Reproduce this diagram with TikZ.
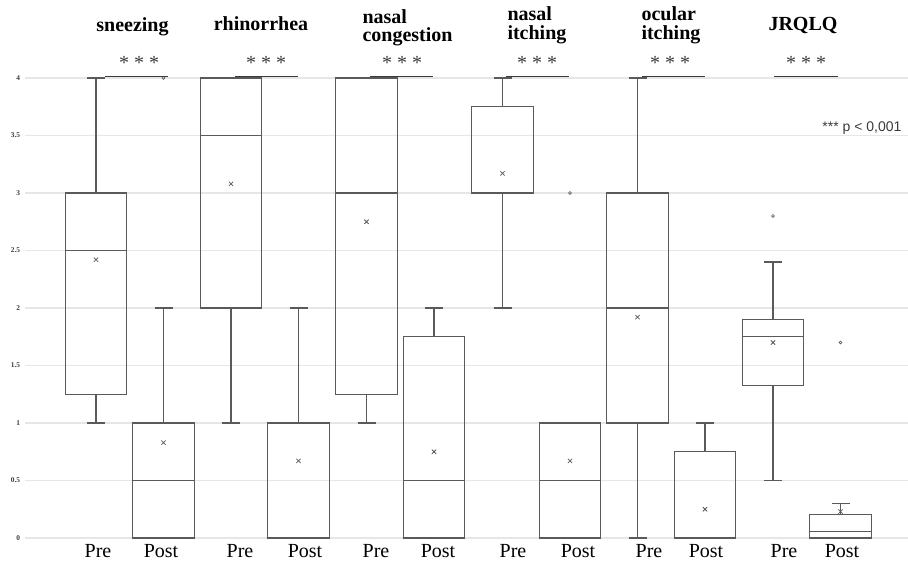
\documentclass[tikz,border=0pt]{standalone}
\usepackage{fontspec}
\setmainfont{Liberation Serif}
\newfontfamily\arialf{Liberation Sans}
\definecolor{boxgray}{HTML}{5A5A5A}
\definecolor{gridgray}{HTML}{E6E6E6}
\definecolor{bargray}{HTML}{3A3A3A}
\begin{document}
\begin{tikzpicture}[x=.75pt,y=86.25pt,line width=.75pt,
 gridl/.style={gridgray,line width=.9pt},
 bp/.style={boxgray,line width=.8pt},
 sigbar/.style={bargray,line width=1.3pt},
 ttl/.style={font=\fontsize{15}{15}\selectfont\bfseries,inner sep=0pt},
 grp/.style={font=\fontsize{15}{15}\selectfont,inner sep=0pt,anchor=base}]
 \useasboundingbox (0,-.24348) rectangle (908,4.67826);
 % grid and ticks
 \foreach \v/\t [count=\k] in {0/0,.5/0.5,1/1,1.5/1.5,2/2,2.5/2.5,3/3,3.5/3.5,4/4}{
  \draw[gridl] (25,\v) -- (908,\v);
  \node[font=\fontsize{5.5}{6}\selectfont\bfseries,anchor=east,inner sep=0pt,text=bargray] (tk\k) at (20.5,\v) {\t};
 }
 % boxes: centre/low/Q1/median/Q3/high/mean
 \foreach \cx/\lo/\qa/\md/\qb/\hi/\mn in {
   96/1/1.25/2.5/3/4/2.42, 163.5/0/0/.5/1/2/.83,
   231/1/2/3.5/4/4/3.08, 298.5/0/0/1/1/2/.67,
   366.5/1/1.25/3/4/4/2.75, 434/0/0/.5/1.75/2/.75,
   502.5/2/3/3/3.75/4/3.17, 570/0/0/.5/1/1/.67,
   637.5/0/1/2/3/4/1.92, 705/0/0/0/.75/1/.25,
   773/.5/1.33/1.75/1.9/2.4/1.7, 840.5/0/0/.055/.206/.3/.23}{
  \draw[bp] (\cx-30.75,\qa) rectangle (\cx+30.75,\qb);
  \draw[bp] (\cx-30.75,\md) -- (\cx+30.75,\md);
  \draw[bp] (\cx,\qa) -- (\cx,\lo) (\cx-9,\lo) -- (\cx+9,\lo);
  \draw[bp] (\cx,\qb) -- (\cx,\hi) (\cx-9,\hi) -- (\cx+9,\hi);
  \draw[bp,line width=.55pt] (\cx,\mn) +(-1.6pt,-1.6pt) -- +(1.6pt,1.6pt) +(-1.6pt,1.6pt) -- +(1.6pt,-1.6pt);
 }
 % outliers
 \foreach \cx/\v in {163.5/4,570/3,773/2.8,840.5/1.7}
  \draw[bp,line width=.5pt] (\cx,\v) circle (1.1pt);
 % significance
 \foreach \a/\b/\s [count=\k] in {105/168/139,235/298/266,370/433/402,506/569/537,642/705/670,774/838/806}{
  \draw[sigbar] (\a,4.012) -- (\b,4.012);
  \node[font=\fontsize{15}{15}\selectfont,text=bargray,inner sep=0pt,anchor=base] (st\k) at (\s,4.078) {* * *};
 }
 \node[font=\arialf\fontsize{10.5}{12}\selectfont,text=bargray,inner sep=0pt,anchor=base east] (pv) at (902,3.539) {*** p < 0,001};
 % titles
 \node[ttl,anchor=base] (t1) at (132.5,4.400) {sneezing};
 \node[ttl,anchor=base] (t2) at (261,4.417) {rhinorrhea};
 \node[ttl,anchor=base west] (t3a) at (362,4.478) {nasal};
 \node[ttl,anchor=base west] (t3b) at (362,4.316) {congestion};
 \node[ttl,anchor=base west] (t4a) at (507,4.504) {nasal};
 \node[ttl,anchor=base west] (t4b) at (507,4.335) {itching};
 \node[ttl,anchor=base west] (t5a) at (641,4.504) {ocular};
 \node[ttl,anchor=base west] (t5b) at (641,4.335) {itching};
 \node[ttl,anchor=base] (t6) at (803,4.409) {JRQLQ};
 % group labels
 \foreach \x/\t [count=\k] in {98/Pre,161/Post,240/Pre,305/Post,376/Pre,438/Post,513/Pre,578/Post,649/Pre,706/Post,784/Pre,842/Post}
  \node[grp] (g\k) at (\x,-.174) {\t};
\end{tikzpicture}
\end{document}
